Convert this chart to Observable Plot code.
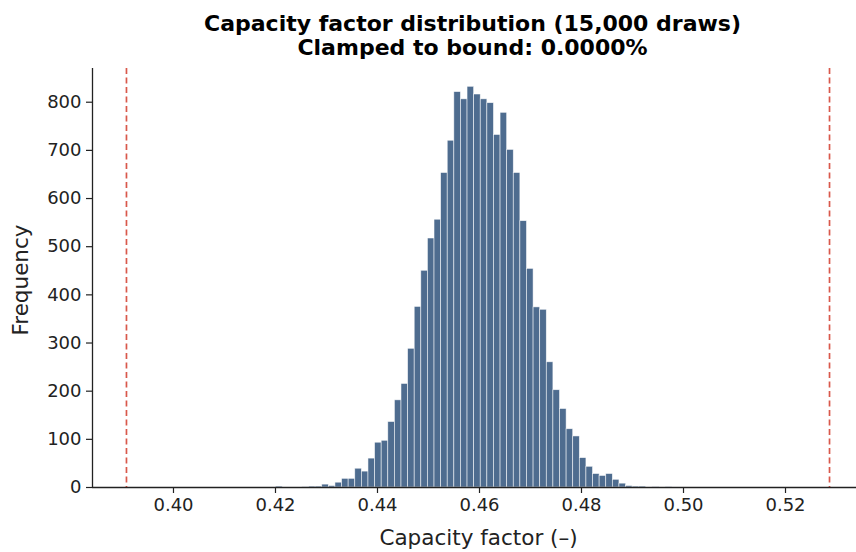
<!DOCTYPE html>
<html>
<head>
<meta charset="utf-8">
<script src="https://cdn.jsdelivr.net/npm/d3@7"></script>
<script src="https://cdn.jsdelivr.net/npm/@observablehq/plot@0.6"></script>
<style>
  html, body { margin: 0; padding: 0; background: #ffffff; }
  #chart svg { display: block; }
</style>
</head>
<body>
<div id="chart"></div>
<script>
// ---- data ----
const binMin = 0.4201;   // left edge of first histogram bin
const binMax = 0.4978;   // right edge of last histogram bin
const counts = [
  2, 0, 0, 0, 1, 2, 2, 6, 3, 10,
  18, 18, 39, 33, 60, 93, 97, 136, 181, 215,
  288, 375, 450, 517, 556, 653, 720, 821, 806, 832,
  816, 806, 798, 732, 778, 701, 653, 553, 454, 374,
  369, 260, 202, 163, 121, 106, 61, 43, 28, 24,
  28, 16, 8, 3, 2, 2, 0, 1, 0, 1
];
const boundLines = [0.39078, 0.52863];
const xTicks = [0.40, 0.42, 0.44, 0.46, 0.48, 0.50, 0.52];
const yTicks = [0, 100, 200, 300, 400, 500, 600, 700, 800];
const xDomain = [0.38412, 0.53392];
const yDomain = [0, 870];
const titleLines = ["Capacity factor distribution (15,000 draws)", "Clamped to bound: 0.0000%"];
const xLabel = "Capacity factor (–)";
const yLabel = "Frequency";

// ---- build bins table ----
const binWidth = (binMax - binMin) / counts.length;
const bins = counts.map((c, i) => ({
  x1: binMin + i * binWidth,
  x2: binMin + (i + 1) * binWidth,
  count: c
}));

const font = "DejaVu Sans, sans-serif";
const ink = "#222222";

const chart = Plot.plot({
  width: 856,
  height: 552,
  marginLeft: 92,
  marginRight: 0,
  marginTop: 68,
  marginBottom: 65,
  style: { fontFamily: font, fontSize: "18px", color: ink, background: "white", overflow: "visible" },
  x: { domain: xDomain },
  y: { domain: yDomain },
  marks: [
    Plot.rectY(bins, {
      x1: "x1", x2: "x2", y: "count",
      fill: "#4e6c8f", stroke: "#ffffff", strokeWidth: 0.7, strokeOpacity: 0.75
    }),
    Plot.ruleX(boundLines, { stroke: "#d9584b", strokeWidth: 1.7, strokeDasharray: "6,3.5" }),
    Plot.axisX({
      ticks: xTicks, tickFormat: d3.format(".2f"), tickSize: 6, tickPadding: 5,
      label: null, stroke: ink, strokeWidth: 1.2, fill: ink
    }),
    Plot.axisY({
      ticks: yTicks, tickSize: 6, tickPadding: 5,
      label: null, stroke: ink, strokeWidth: 1.2, fill: ink
    }),
    Plot.ruleY([yDomain[0]], { stroke: ink, strokeWidth: 1.3 }),
    Plot.ruleX([xDomain[0]], { stroke: ink, strokeWidth: 1.3 }),
    Plot.text([titleLines[0]], {
      frameAnchor: "top", lineAnchor: "bottom", dy: -38, dx: -2,
      fontWeight: "bold", fontSize: 22, fill: "#000"
    }),
    Plot.text([titleLines[1]], {
      frameAnchor: "top", lineAnchor: "bottom", dy: -14, dx: -2,
      fontWeight: "bold", fontSize: 22, fill: "#000"
    }),
    Plot.text([xLabel], {
      frameAnchor: "bottom", lineAnchor: "bottom", dy: 57, dx: 4,
      fontSize: 21.5, fill: ink
    }),
    Plot.text([yLabel], {
      frameAnchor: "left", textAnchor: "middle", rotate: -90, lineAnchor: "middle", dx: -71, dy: 2,
      fontSize: 21.5, fill: ink
    })
  ]
});

document.getElementById("chart").appendChild(chart);
</script>
</body>
</html>
